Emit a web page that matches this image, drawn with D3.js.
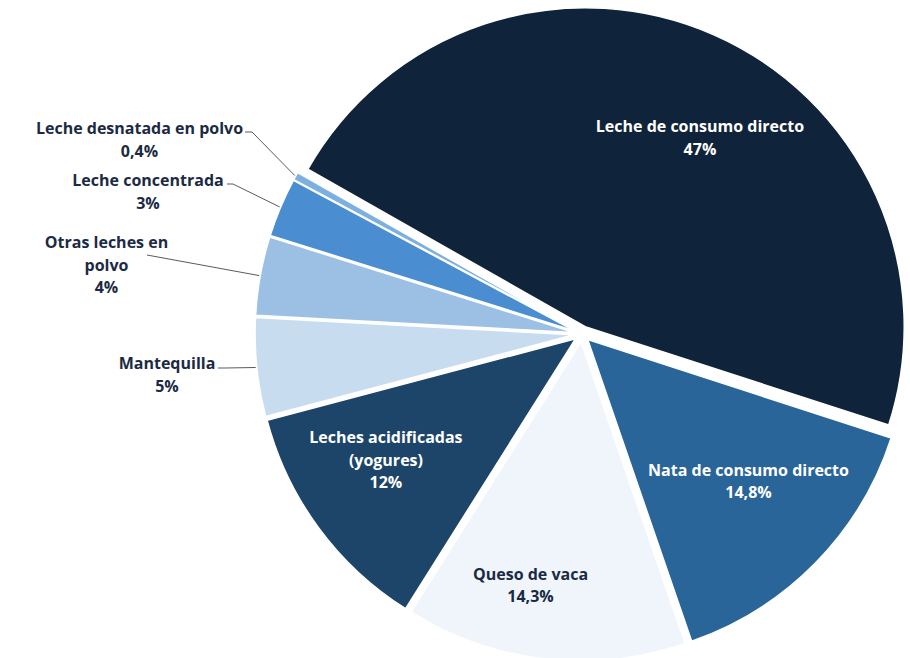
<!DOCTYPE html>
<html>
<head>
<meta charset="utf-8">
<script src="https://cdn.jsdelivr.net/npm/d3@7"></script>
<style>
  body { margin: 0; background: #fff; }
  svg { display: block; }
</style>
</head>
<body>
<svg id="chart" width="910" height="658"></svg>
<script>
// Dairy production breakdown (share of total, %)
const categories = [
  "Leche de consumo directo",
  "Nata de consumo directo",
  "Queso de vaca",
  "Leches acidificadas (yogures)",
  "Mantequilla",
  "Otras leches en polvo",
  "Leche concentrada",
  "Leche desnatada en polvo"
];
const values = [47, 14.8, 14.3, 12, 5, 4, 3, 0.4];
const sliceColors = ["#0f243a", "#2a659a", "#eff5fb", "#1d4469", "#c8dcf0", "#9bc0e4", "#4a8ed1", "#7db0e0"];
// How each category name wraps onto lines
const nameLines = [
  ["Leche de consumo directo"],
  ["Nata de consumo directo"],
  ["Queso de vaca"],
  ["Leches acidificadas", "(yogures)"],
  ["Mantequilla"],
  ["Otras leches en", "polvo"],
  ["Leche concentrada"],
  ["Leche desnatada en polvo"]
];

const W = 910, H = 658;
const cx = 582, cy = 334, R = 319, explode = 8;
const startAngle = -60.4 * Math.PI / 180;
const lineH = 22.5;
const font = "'Open Sans', 'Noto Sans', sans-serif";
const darkText = "#1b2a44";

const fmt = v => String(v).replace(".", ",") + "%";

// Labels drawn inside their slice: polar position (degrees clockwise from top, radius)
const insideLabels = [
  { i: 0, deg: 31, rho: 229, fill: "#ffffff" },
  { i: 1, deg: 131.4, rho: 222, fill: "#ffffff" },
  { i: 2, deg: 191.6, rho: 256, fill: darkText },
  { i: 3, deg: 237.3, rho: 233, fill: "#ffffff" }
];
// Labels drawn outside with a leader line: text centre, first line y, leader start
const outsideLabels = [
  { i: 4, x: 167, y: 363, lx: 218, ly: 368, elbow: 7 },
  { i: 5, x: 106.5, y: 242, lx: 147, ly: 255, elbow: 0 },
  { i: 6, x: 148, y: 180, lx: 227, ly: 184, elbow: 6 },
  { i: 7, x: 139.5, y: 128, lx: 245, ly: 132, elbow: 7 }
];

const svg = d3.select("#chart");

const pie = d3.pie()
  .sort(null)
  .value(d => d)
  .startAngle(startAngle)
  .endAngle(startAngle + 2 * Math.PI);

const arcs = pie(values);
const arc = d3.arc().innerRadius(0).outerRadius(R);

const dirOf = a => [Math.sin(a), -Math.cos(a)];

// Slices, each pushed slightly out along its mid-angle
svg.append("g")
  .selectAll("path")
  .data(arcs)
  .join("path")
  .attr("transform", d => {
    const [dx, dy] = dirOf((d.startAngle + d.endAngle) / 2);
    return `translate(${cx + dx * explode},${cy + dy * explode})`;
  })
  .attr("d", arc)
  .attr("fill", (d, i) => sliceColors[i])
  .attr("stroke", "#ffffff")
  .attr("stroke-width", 1.5)
  .attr("stroke-linejoin", "round");

function drawLabel(g, lines, x, yFirst, fill) {
  const t = g.append("text")
    .attr("text-anchor", "middle")
    .attr("font-family", font)
    .attr("font-weight", 700)
    .attr("font-size", 16)
    .attr("fill", fill);
  lines.forEach((s, k) => {
    t.append("tspan")
      .attr("x", x)
      .attr("y", yFirst + k * lineH)
      .attr("dominant-baseline", "central")
      .text(s);
  });
}

const labelLayer = svg.append("g");

insideLabels.forEach(L => {
  const a = L.deg * Math.PI / 180;
  const [dx, dy] = dirOf(a);
  const lines = [...nameLines[L.i], fmt(values[L.i])];
  const bx = cx + dx * L.rho;
  const by = cy + dy * L.rho;
  drawLabel(labelLayer, lines, bx, by - (lines.length - 1) * lineH / 2, L.fill);
});

outsideLabels.forEach(L => {
  const d = arcs[L.i];
  const [dx, dy] = dirOf((d.startAngle + d.endAngle) / 2);
  const ex = cx + dx * (R + explode + 1);
  const ey = cy + dy * (R + explode + 1);
  const pts = [[L.lx, L.ly], [L.lx + L.elbow, L.ly], [ex, ey]];
  labelLayer.append("path")
    .attr("d", d3.line()(pts))
    .attr("fill", "none")
    .attr("stroke", "#555b63")
    .attr("stroke-width", 1);
  drawLabel(labelLayer, [...nameLines[L.i], fmt(values[L.i])], L.x, L.y, darkText);
});
</script>
</body>
</html>
